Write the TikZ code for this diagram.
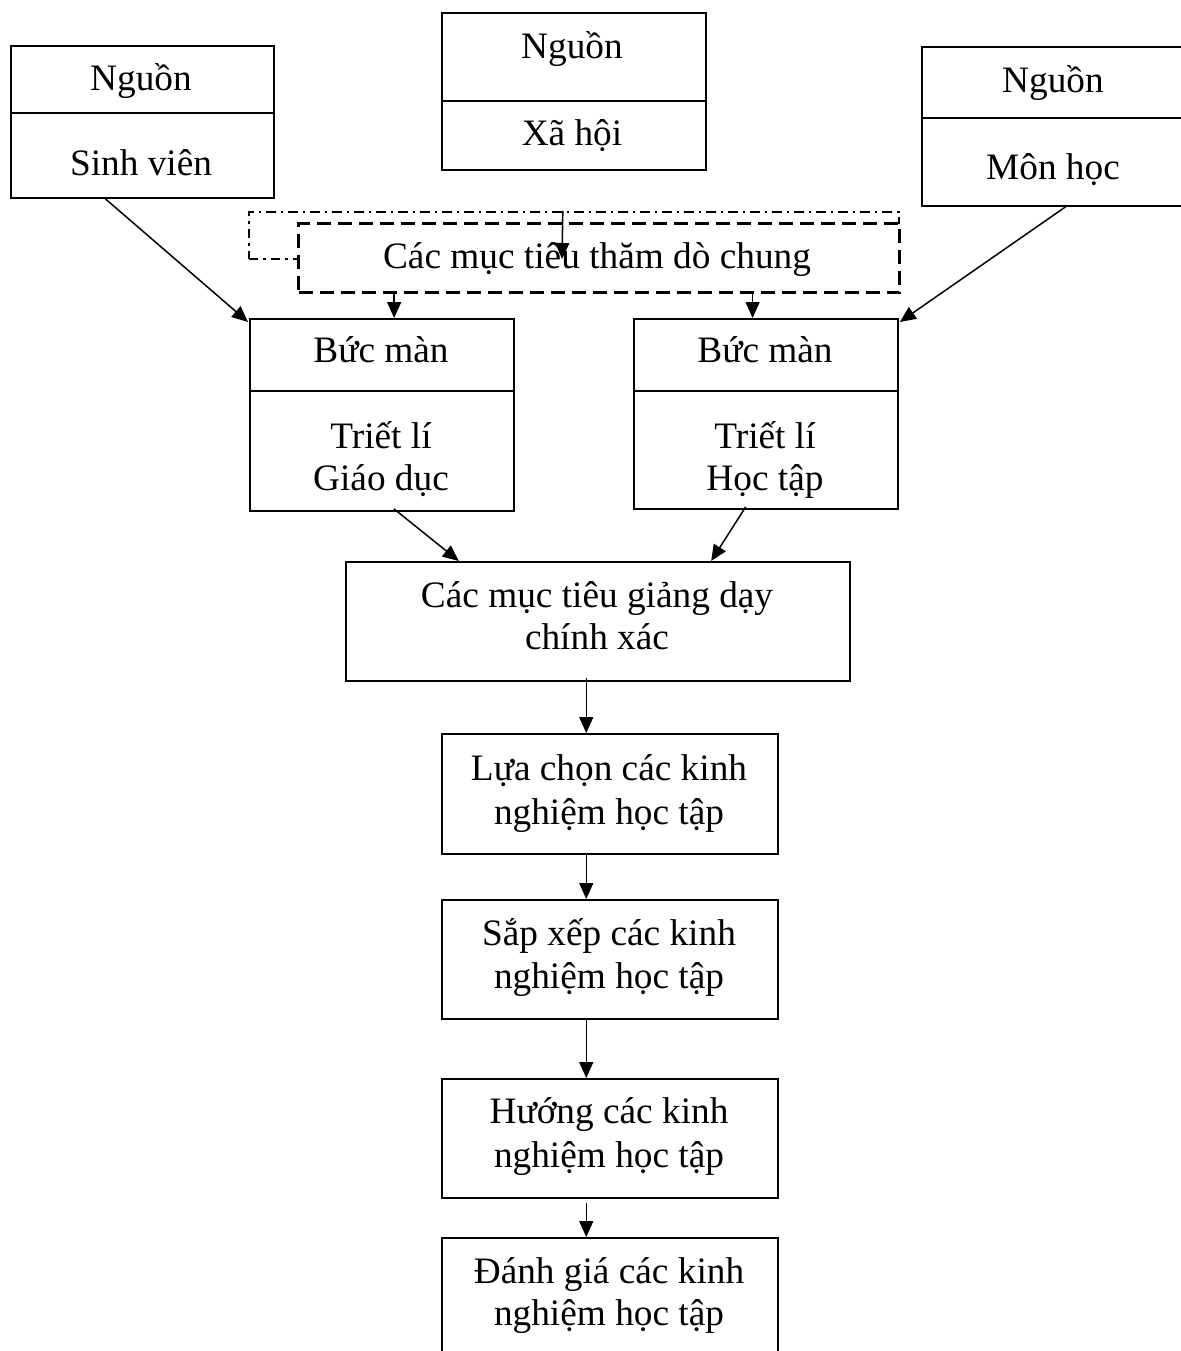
\documentclass[tikz,border=0pt]{standalone}
\usepackage{fontspec}
\setmainfont{Liberation Serif}
\usetikzlibrary{arrows.meta,calc}
\begin{document}
\begin{tikzpicture}[x=1pt,y=-1pt,
  cell/.style={draw, line width=1.8pt, inner sep=0pt, anchor=north west, fill=white},
  lbl/.style={font=\fontsize{37.3}{43}\selectfont, inner sep=0pt, text height=26pt, text depth=9pt},
  arr/.style={line width=1.5pt, -{Triangle[length=16pt,width=14pt]}},
  dashdot/.style={draw, line width=1.8pt, inner sep=0pt, anchor=north west,
    dash pattern=on 9.5pt off 5pt on 2.5pt off 5pt},
  dashbox/.style={draw, line width=3.2pt, inner sep=0pt, anchor=north west, fill=white,
    dash pattern=on 14pt off 7pt},
]
\useasboundingbox[fill=white] (0,0) rectangle (1180,1351);

% sources
\node[cell, minimum width=263, minimum height=67] (svA) at (10,45) {};
\node[cell, minimum width=263, minimum height=85] (svB) at (10,112) {};
\node[lbl] (svAt) at (141,82) {Nguồn};
\node[lbl] (svBt) at (141,167) {Sinh viên};

\node[cell, minimum width=264, minimum height=88] (xhA) at (441,12) {};
\node[cell, minimum width=264, minimum height=69] (xhB) at (441,100) {};
\node[lbl] (xhAt) at (572,50) {Nguồn};
\node[lbl] (xhBt) at (572,137) {Xã hội};

\node[cell, minimum width=266, minimum height=71] (mhA) at (921,46) {};
\node[cell, minimum width=266, minimum height=88] (mhB) at (921,117) {};
\node[lbl] (mhAt) at (1053,84) {Nguồn};
\node[lbl] (mhBt) at (1053,171) {Môn học};

% general objectives
\node[dashdot, minimum width=650, minimum height=47] (ddr) at (248,211) {};
\node[dashbox, minimum width=601, minimum height=69] (gen) at (297,222) {};
\node[lbl] (gent) at (597,260) {Các mục tiêu thăm dò chung};
\coordinate (xhin) at ($(ddr.north west)!0.483!(ddr.north east)$);
\coordinate (xhend) at (562,259);
\draw[arr] (xhin) -- (xhend);

% screens
\node[cell, minimum width=264, minimum height=72] (bm1A) at (249,318) {};
\node[cell, minimum width=264, minimum height=120] (bm1B) at (249,390) {};
\node[lbl] (bm1At) at (381,354) {Bức màn};
\node[lbl] (bm1Bt) at (381,440) {Triết lí};
\node[lbl] (bm1Bu) at (381,482) {Giáo dục};

\node[cell, minimum width=264, minimum height=72] (bm2A) at (633,318) {};
\node[cell, minimum width=264, minimum height=118] (bm2B) at (633,390) {};
\node[lbl] (bm2At) at (765,354) {Bức màn};
\node[lbl] (bm2Bt) at (765,440) {Triết lí};
\node[lbl] (bm2Bu) at (765,482) {Học tập};

% precise objectives and learning experiences
\node[cell, minimum width=504, minimum height=119] (cm) at (345,561) {};
\node[lbl] (cmt) at (597,599) {Các mục tiêu giảng dạy};
\node[lbl] (cmu) at (597,641) {chính xác};

\node[cell, minimum width=336, minimum height=120] (lc) at (441,733) {};
\node[lbl] (lct) at (609,772) {Lựa chọn các kinh};
\node[lbl] (lcu) at (609,816) {nghiệm học tập};

\node[cell, minimum width=336, minimum height=119] (sx) at (441,899) {};
\node[lbl] (sxt) at (609,937) {Sắp xếp các kinh};
\node[lbl] (sxu) at (609,980) {nghiệm học tập};

\node[cell, minimum width=336, minimum height=119] (hg) at (441,1078) {};
\node[lbl] (hgt) at (609,1115) {Hướng các kinh};
\node[lbl] (hgu) at (609,1159) {nghiệm học tập};

\node[cell, minimum width=336, minimum height=160] (dg) at (441,1237) {};
\node[lbl] (dgt) at (609,1275) {Đánh giá các kinh};
\node[lbl] (dgu) at (609,1317) {nghiệm học tập};

% connectors
\draw[arr] ($(svB.south west)!0.36!(svB.south east)$) -- ([xshift=-1pt,yshift=-4pt]bm1A.north west);
\draw[arr] ($(mhB.south west)!0.54!(mhB.south east)$) -- ([xshift=1pt,yshift=-4pt]bm2A.north east);

\coordinate (b1in) at ($(bm1A.north west)!0.546!(bm1A.north east)$);
\coordinate (b2in) at ($(bm2A.north west)!0.45!(bm2A.north east)$);
\draw[arr] (b1in |- gen.south) -- (b1in);
\draw[arr] (b2in |- gen.south) -- (b2in);

\draw[arr] ([yshift=3pt]$(bm1B.south west)!0.545!(bm1B.south east)$) -- ($(cm.north west)!0.225!(cm.north east)$);
\draw[arr] ([yshift=3pt]$(bm2B.south west)!0.424!(bm2B.south east)$) -- ($(cm.north west)!0.724!(cm.north east)$);

\coordinate (lcin) at ($(lc.north west)!0.43!(lc.north east)$);
\coordinate (sxin) at ($(sx.north west)!0.43!(sx.north east)$);
\coordinate (hgin) at ($(hg.north west)!0.43!(hg.north east)$);
\coordinate (dgin) at ($(dg.north west)!0.43!(dg.north east)$);
\draw[arr] ([yshift=4pt]lcin |- cm.south) -- (lcin);
\draw[arr] (sxin |- lc.south) -- (sxin);
\draw[arr] ([yshift=2pt]hgin |- sx.south) -- (hgin);
\draw[arr] ([yshift=-4pt]dgin |- hg.south) -- (dgin);
\end{tikzpicture}
\end{document}
